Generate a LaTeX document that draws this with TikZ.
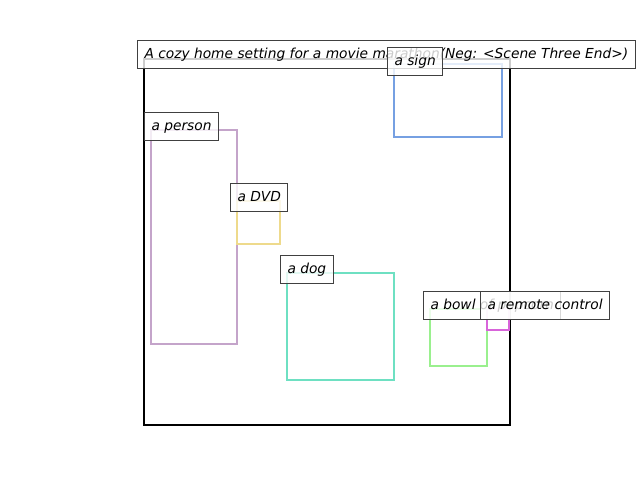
\documentclass[tikz,border=0pt]{standalone}
\usepackage{fontspec}
\setmainfont{DejaVu Sans}
\definecolor{csign}{HTML}{76A0E2}
\definecolor{cperson}{HTML}{C4A4CA}
\definecolor{cdvd}{HTML}{EEDA8C}
\definecolor{cdog}{HTML}{6EE0C2}
\definecolor{cbowl}{HTML}{9AF08E}
\definecolor{cremote}{HTML}{D864DA}
\begin{document}
\begin{tikzpicture}[x=0.72pt,y=-0.72pt,
  objbox/.style={line width=1.5pt},
  lbl/.style={draw=black!75, line width=0.72pt, fill=white, fill opacity=0.8, text opacity=1,
    anchor=west, inner xsep=5.04pt, inner ysep=0pt, minimum height=20.16pt,
    text height=6pt, text depth=0pt,
    font=\fontsize{9.92}{12}\selectfont\itshape}]
\useasboundingbox (0,0) rectangle (640,480);
\draw[line width=1.5pt] (144,59) rectangle (510,425);
\draw[objbox, csign] (394,64) rectangle (502,137);
\draw[objbox, cperson] (151,130) rectangle (237,344);
\draw[objbox, cdvd] (237,201) rectangle (280,244);
\draw[objbox, cdog] (287,273) rectangle (394,380);
\draw[objbox, cbowl] (430,309) rectangle (487,366);
\draw[objbox, cremote] (487,309) rectangle (509,330);
\node[lbl] (title) at (137,54) {A cozy home setting for a movie marathon(Neg: <Scene Three End>)};
\node[lbl] (sign) at (387,61) {a sign};
\node[lbl] (person) at (144,126) {a person};
\node[lbl] (dvd) at (230,197) {a DVD};
\node[lbl] (dog) at (280,269) {a dog};
\node[lbl] (bowl) at (423,305) {a bowl of popcorn};
\node[lbl] (remote) at (480,305) {a remote control};
\end{tikzpicture}
\end{document}
